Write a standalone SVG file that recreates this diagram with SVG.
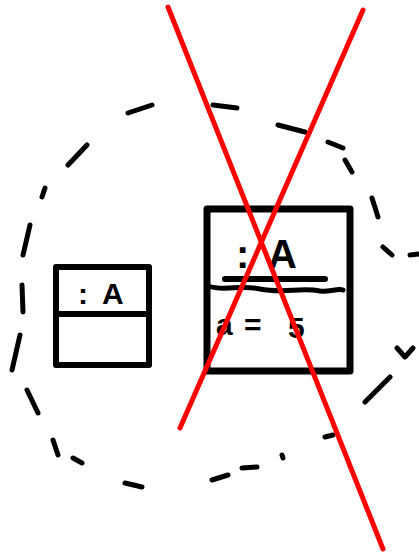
<svg xmlns="http://www.w3.org/2000/svg" width="419" height="557" viewBox="0 0 419 557">
<style>
.dash{fill:none;stroke:#000;stroke-width:5;stroke-linecap:round;stroke-linejoin:round}
.box{fill:#fff;stroke:#000;stroke-width:7;stroke-linejoin:round}
.ln{fill:none;stroke:#000;stroke-linecap:round;stroke-linejoin:round}
.lbl{font-family:"Liberation Sans",Arial,sans-serif;font-weight:bold;fill:#000}
.x{stroke:#ff0000;stroke-width:5;stroke-linecap:round}
</style>
<rect width="419" height="557" fill="#fff"/>
<g id="boundary">
<path class="dash" d="M128,113 L152,105 M213,105 L237,108 M278,125 L305,132 M328,142 L343,148 M345,160 L352,172 M372,198 L378,217 M383,247 L392,255 M410,255 L419,254 M397,348 L405,357 L413,348 M365,402 L390,377 M325,437 L333,435 M282,455 L283,458 M242,468 L257,467 M212,480 L228,475 M125,483 L142,487 M73,458 L82,463 M53,440 L58,455 M27,390 L38,413 M20,335 L12,370 M22,285 L23,312 M30,225 L23,255 M45,188 L42,197 M87,145 L68,165"/>
</g>
<g id="objA1">
<rect class="box" x="56" y="267" width="93" height="98" style="stroke-width:6"/>
<path class="ln" d="M56,314 L149,314" style="stroke-width:6"/>
<text class="lbl" font-size="30"><tspan x="78" y="304">:</tspan><tspan x="102" y="304">A</tspan></text>
</g>
<g id="objA2">
<rect class="box" x="207" y="209" width="143" height="162"/>
<text class="lbl" font-size="40"><tspan x="236" y="268">:</tspan><tspan x="268" y="268">A</tspan></text>
<path class="ln" d="M225,279 L325,279" style="stroke-width:6"/>
<path class="ln" d="M208,286 C225,292 240,284 260,289 C285,294 300,287 320,291 C330,292 338,288 343,290" style="stroke-width:5"/>
<text class="lbl" font-size="30"><tspan x="216" y="335">a</tspan><tspan x="244" y="335">=</tspan><tspan x="288" y="338">5</tspan></text>
</g>
<g id="connectors">
<line class="x" x1="168" y1="7" x2="383" y2="549"/>
<line class="x" x1="363" y1="10" x2="180" y2="428"/>
</g>
</svg>
